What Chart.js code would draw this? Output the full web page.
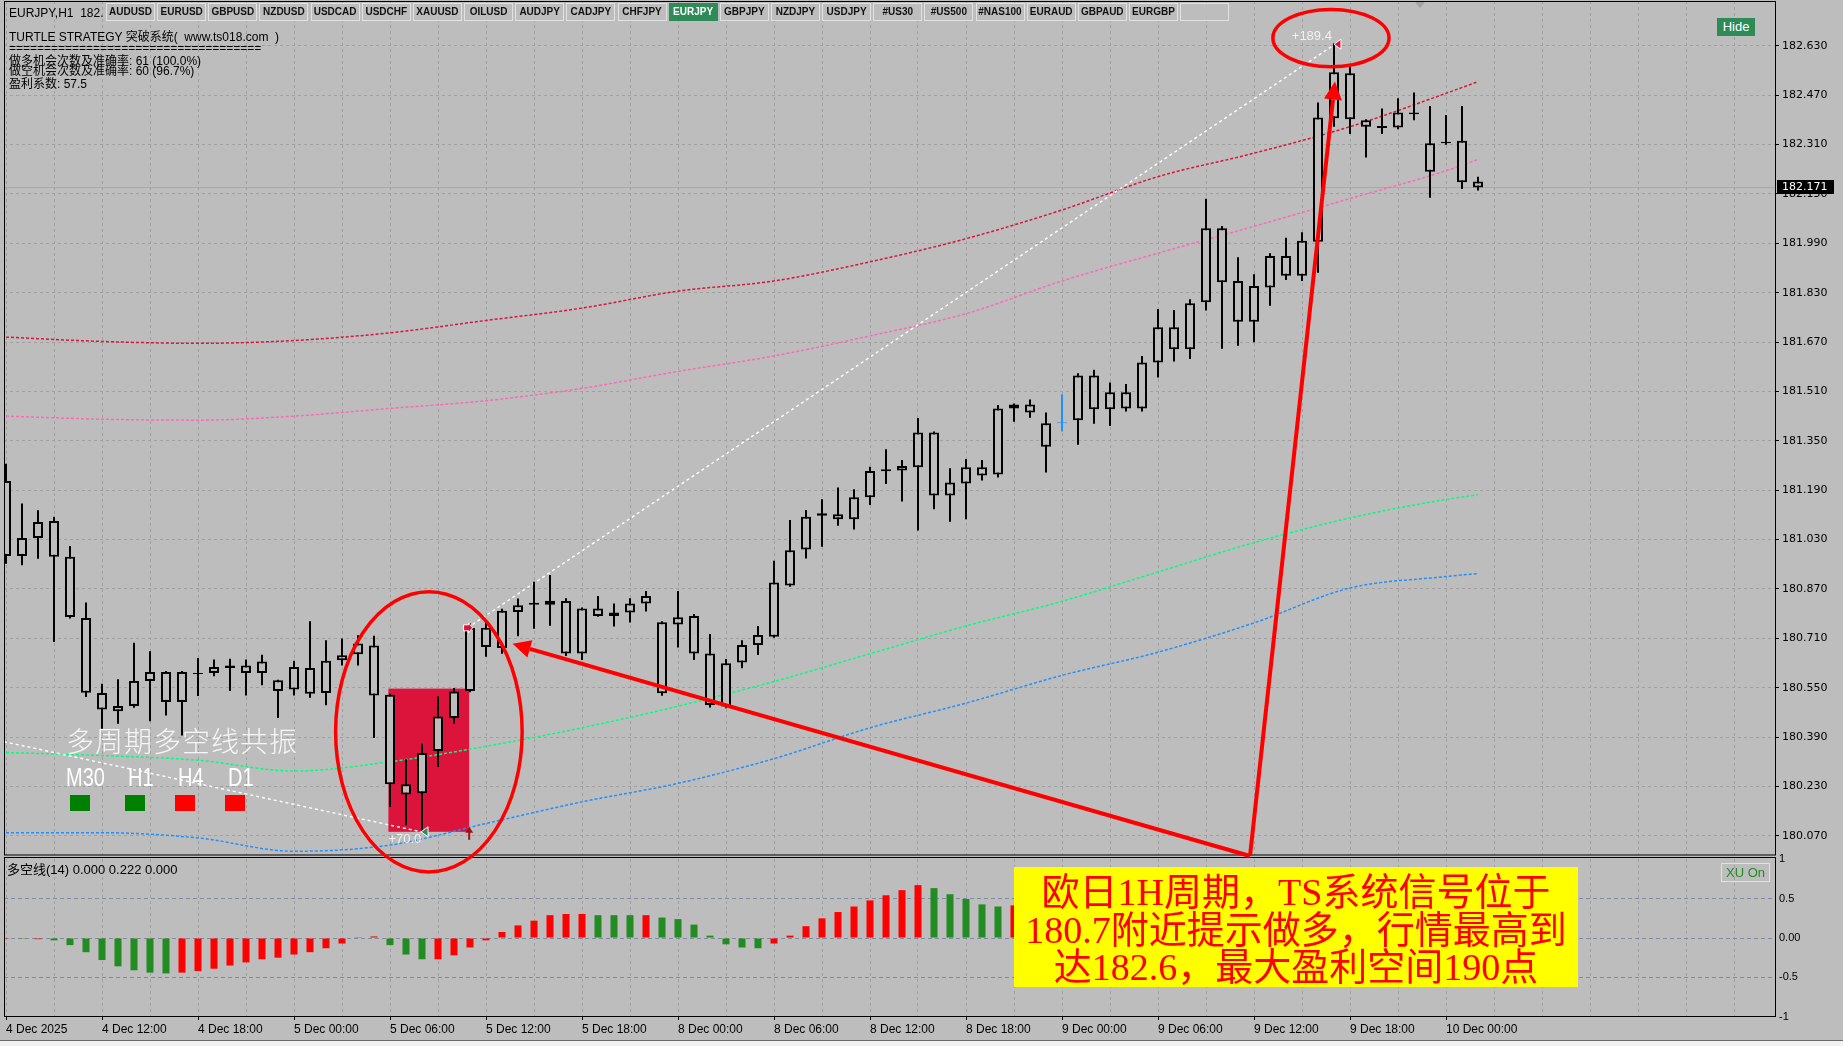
<!DOCTYPE html>
<html><head><meta charset="utf-8">
<script src="https://cdn.jsdelivr.net/npm/chart.js@4.4.1/dist/chart.umd.min.js"></script>
<style>
html,body{margin:0;padding:0;background:#bdbdbd;width:1843px;height:1046px;overflow:hidden;}
#wrap{position:relative;width:1843px;height:1046px;}
canvas{position:absolute;left:0;top:0;}
.ov{position:absolute;white-space:nowrap;line-height:1;}
.txt{font-family:"Liberation Sans","Noto Sans CJK SC",sans-serif;font-size:12px;color:#000;}
.btn{position:absolute;top:3px;height:18px;width:49px;box-sizing:border-box;border:1px solid #e2e2e2;background:#bdbdbd;
 font:bold 10px "Liberation Sans",sans-serif;color:#111;text-align:center;line-height:16px;}
.btn.on{background:#2e8b57;color:#fff;border-color:#2e8b57;}
.sq{position:absolute;width:20px;height:16px;}
</style></head><body>
<div id="wrap">
<canvas id="c" width="1843" height="1046"></canvas>
<div class="ov txt" style="left:9px;top:6.5px;">EURJPY,H1&nbsp;&nbsp;182.</div>
<div id="btns"></div>
<div class="ov txt" style="left:9px;top:31px;">TURTLE STRATEGY 突破系统(&nbsp;&nbsp;www.ts018.com&nbsp;&nbsp;)</div>
<div class="ov txt" style="left:9px;top:42px;">====================================</div>
<div class="ov txt" style="left:9px;top:55px;">做多机会次数及准确率: 61 (100.0%)</div>
<div class="ov txt" style="left:9px;top:65px;">做空机会次数及准确率: 60 (96.7%)</div>
<div class="ov txt" style="left:9px;top:78px;">盈利系数: 57.5</div>
<div class="ov" style="left:1717px;top:18px;width:38px;height:18px;background:#2e8b57;color:#fff;font:13px 'Liberation Sans',sans-serif;line-height:18px;text-align:center;">Hide</div>
<div class="ov" style="left:1415px;top:2px;width:0;height:0;border-left:5px solid transparent;border-right:5px solid transparent;border-top:6px solid #a3a3a3;"></div>
<div class="ov" style="left:66px;top:726px;font-family:'Noto Sans CJK SC',sans-serif;font-weight:300;font-size:28px;letter-spacing:1px;color:#f6f6f6;">多周期多空线共振</div>
<div class="ov" style="left:66px;top:765px;font-family:'Liberation Sans',sans-serif;font-size:25px;color:#fff;transform:scaleX(0.8);transform-origin:0 0;">M30</div>
<div class="ov" style="left:128px;top:765px;font-family:'Liberation Sans',sans-serif;font-size:25px;color:#fff;transform:scaleX(0.8);transform-origin:0 0;">H1</div>
<div class="ov" style="left:178px;top:765px;font-family:'Liberation Sans',sans-serif;font-size:25px;color:#fff;transform:scaleX(0.8);transform-origin:0 0;">H4</div>
<div class="ov" style="left:228px;top:765px;font-family:'Liberation Sans',sans-serif;font-size:25px;color:#fff;transform:scaleX(0.8);transform-origin:0 0;">D1</div>
<div class="sq" style="left:70px;top:795px;background:#008000;"></div>
<div class="sq" style="left:125px;top:795px;background:#008000;"></div>
<div class="sq" style="left:175px;top:795px;background:#ff0000;"></div>
<div class="sq" style="left:225px;top:795px;background:#ff0000;"></div>
<div class="ov txt" style="left:7px;top:862.5px;font-size:13px;">多空线(14) 0.000 0.222 0.000</div>
<div class="ov" style="left:1721px;top:863px;width:49px;height:19px;box-sizing:border-box;border:1px solid #e2e2e2;color:#228b22;font:13px 'Liberation Sans',sans-serif;line-height:17px;text-align:center;">XU On</div>
<div class="ov" style="left:1014px;top:867px;width:564px;height:120px;box-sizing:border-box;padding-top:7px;background:#ffff00;color:#ff0000;font-family:'Liberation Serif','Noto Sans CJK SC',serif;font-size:38px;line-height:37.5px;text-align:center;white-space:normal;">
欧日1H周期，TS系统信号位于<br>180.7附近提示做多，行情最高到<br>达182.6，最大盈利空间190点</div>
<div class="ov" style="left:0;top:1040px;width:1843px;height:6px;background:#f2f2f2;border-top:1px solid #6a6a6a;box-sizing:border-box;"></div>
</div>
<script>
// ---------- data ----------
const symbols = ['AUDUSD','EURUSD','GBPUSD','NZDUSD','USDCAD','USDCHF','XAUUSD','OILUSD','AUDJPY','CADJPY','CHFJPY','EURJPY','GBPJPY','NZDJPY','USDJPY','#US30','#US500','#NAS100','EURAUD','GBPAUD','EURGBP',''];
const activeSymbol = 'EURJPY';

const timeLabelIdx = [0,6,12,18,24,30,36,42,48,54,60,66,72,78,84,90];
const timeLabels = ['4 Dec 2025','4 Dec 12:00','4 Dec 18:00','5 Dec 00:00','5 Dec 06:00','5 Dec 12:00','5 Dec 18:00','8 Dec 00:00','8 Dec 06:00','8 Dec 12:00','8 Dec 18:00','9 Dec 00:00','9 Dec 06:00','9 Dec 12:00','9 Dec 18:00','10 Dec 00:00'];
const priceTicks = [180.070,180.230,180.390,180.550,180.710,180.870,181.030,181.190,181.350,181.510,181.670,181.830,181.990,182.150,182.310,182.470,182.630];
const oscTicks = [-1,-0.5,0,0.5,1];
const oscTickLabels = ['-1','-0.5','0.00','0.5','1'];
const lastPrice = 182.171;

const opens = [181.220,180.977,181.035,181.090,180.974,180.776,180.533,180.474,180.491,180.572,
180.601,180.504,180.598,180.598,180.614,180.622,180.598,180.574,180.544,180.530,
180.533,180.639,180.658,180.687,180.527,180.237,180.208,180.345,180.452,180.539,
180.744,180.679,180.795,180.819,180.819,180.831,180.661,180.807,180.782,180.794,
180.823,180.762,180.755,180.782,180.661,180.489,180.632,180.688,180.715,180.881,
180.998,181.107,181.112,181.096,181.167,181.251,181.254,181.264,181.377,181.173,
181.212,181.264,181.241,181.455,181.468,181.407,181.410,181.417,181.562,181.452,
181.507,181.455,181.604,181.718,181.647,181.799,182.039,181.868,181.736,181.847,
181.949,181.885,181.995,182.395,182.541,182.389,182.370,182.365,182.414,182.314,
182.319,182.322,182.190];
const highs = [181.276,181.147,181.125,181.104,181.009,180.826,180.563,180.577,180.696,180.668,
180.604,180.604,180.646,180.641,180.644,180.641,180.657,180.576,180.637,180.765,
180.704,180.709,180.720,180.718,180.530,180.318,180.368,180.522,180.549,180.758,
180.768,180.806,180.839,180.893,180.915,180.840,180.810,180.847,180.823,180.840,
180.863,180.765,180.863,180.789,180.724,180.643,180.704,180.750,180.961,181.093,
181.126,181.161,181.199,181.193,181.266,181.323,181.288,181.424,181.380,181.261,
181.291,181.288,181.466,181.471,181.484,181.442,181.501,181.569,181.580,181.539,
181.534,181.625,181.777,181.774,181.809,182.134,182.046,181.945,181.890,181.958,
182.008,182.026,182.446,182.638,182.562,182.392,182.427,182.460,182.479,182.435,
182.406,182.435,182.206];
const lows = [180.952,180.947,180.968,180.698,180.774,180.520,180.417,180.433,180.485,180.441,
180.460,180.395,180.523,180.587,180.539,180.525,180.558,180.452,180.525,180.517,
180.493,180.622,180.622,180.387,180.163,180.104,180.087,180.293,180.433,180.535,
180.650,180.660,180.717,180.741,180.751,180.653,180.640,180.780,180.748,180.761,
180.797,180.524,180.680,180.640,180.486,180.483,180.613,180.656,180.712,180.877,
180.969,181.007,181.075,181.063,181.142,181.210,181.153,181.059,181.128,181.088,
181.096,181.221,181.231,181.412,181.425,181.247,181.380,181.337,181.405,181.398,
181.445,181.445,181.555,181.607,181.615,181.772,181.648,181.658,181.669,181.788,
181.871,181.868,181.895,182.368,182.344,182.268,182.344,182.360,182.389,182.138,
182.309,182.166,182.161];
const closes = [180.977,181.035,181.087,180.974,180.779,180.534,180.479,180.491,180.572,180.601,
180.504,180.601,180.594,180.617,180.622,180.598,180.635,180.539,180.617,180.614,
180.637,180.655,180.693,180.525,180.237,180.204,180.338,180.457,180.538,180.744,
180.682,180.799,180.817,180.825,180.832,180.661,180.807,180.782,180.794,180.823,
180.847,180.532,180.778,180.661,180.494,180.629,180.688,180.721,180.891,180.995,
181.104,181.115,181.096,181.167,181.252,181.258,181.268,181.377,181.173,181.215,
181.264,181.238,181.455,181.468,181.442,181.331,181.407,181.562,181.452,181.507,
181.455,181.604,181.718,181.647,181.796,182.039,181.864,181.736,181.852,181.949,
181.885,181.998,182.398,182.544,182.392,182.368,182.364,182.414,182.408,182.222,
182.314,182.188,182.171];
const blueBarIdx = 66;

const maIdx   = [0,6,12,18,24,30,36,42,48,54,60,66,72,78,84,90,92];
const maRed   = [181.686,181.672,181.666,181.675,181.700,181.740,181.780,181.835,181.868,181.930,182.005,182.098,182.206,182.282,182.368,182.476,182.514];
const maPink  = [181.430,181.420,181.417,181.430,181.455,181.480,181.520,181.575,181.625,181.690,181.762,181.868,181.958,182.045,182.135,182.225,182.262];
const maGreen = [180.340,180.330,180.315,180.280,180.310,180.360,180.420,180.490,180.570,180.660,180.750,180.830,180.925,181.020,181.100,181.160,181.175];
const maBlue  = [180.080,180.080,180.063,180.020,180.040,180.110,180.180,180.240,180.320,180.420,180.500,180.590,180.665,180.760,180.873,180.910,180.920];

const oscValues = [-0.01,-0.01,-0.015,-0.03,-0.09,-0.18,-0.28,-0.36,-0.41,-0.44,
-0.45,-0.44,-0.42,-0.39,-0.35,-0.31,-0.27,-0.25,-0.21,-0.18,
-0.13,-0.07,0.01,0.02,-0.09,-0.21,-0.27,-0.27,-0.22,-0.12,
-0.03,0.076,0.16,0.22,0.29,0.305,0.305,0.29,0.29,0.29,
0.29,0.26,0.24,0.17,0.03,-0.08,-0.12,-0.13,-0.07,0.03,
0.15,0.25,0.33,0.40,0.478,0.543,0.608,0.672,0.634,0.556,
0.496,0.427,0.40,0.414,0.43,0.41,0.38,0.40,0.42,0.41,
0.39,0.42,0.47,0.51,0.56,0.64,0.67,0.65,0.63,0.65,
0.67,0.70,0.78,0.84,0.83,0.78,0.72,0.66,0.58,0.48,
0.40,0.31,0.222];
const oscState = ['r','g','r','g','g','g','g','g','g','g',
'g','r','r','r','r','r','r','r','r','r',
'r','r','r','r','g','g','g','r','r','r',
'r','r','r','r','r','r','r','g','g','g',
'r','g','g','g','g','g','g','g','r','r',
'r','r','r','r','r','r','r','r','g','g',
'g','g','g','r','r','g','g','r','r','g',
'g','r','r','r','r','r','r','g','g','r',
'r','r','r','r','g','g','g','g','g','g',
'g','g','g'];

// trade lines, box, annotations (bar index / price)
const trade1Idx = [-0.125, 25.94], trade1Price = [180.375, 180.083];
const trade2Idx = [28.85, 83.06],  trade2Price = [180.744, 182.635];
const boxIdx = [23.9, 28.95], boxPrice = [180.547, 180.083];
const ell1 = {idx:26.43, price:180.407, rIdx:5.83, rPrice:0.454};
const ell2 = {idx:82.81, price:182.655, rIdx:3.63, rPrice:0.093};
const arrowBase = {idx:77.75, price:180.0046};
const arrowTips = [{idx:31.66, price:180.692},{idx:83.06, price:182.514}];
const profitLabels = [{text:'+70.0', idx:23.9, price:180.057, align:'left'},{text:'+189.4', idx:82.87, price:182.662, align:'right'}];

// view ranges
const xMin = -0.125, xMax = 110.5625;
const priceMin = 180.0046, priceMax = 182.7752;
const oscMin = -0.991, oscMax = 1.042;

// ---------- buttons ----------
const bw = document.getElementById('btns');
symbols.forEach((s,i)=>{
  const d=document.createElement('div');
  d.className='btn'+(s===activeSymbol?' on':'');
  d.style.left=(106+51.15*i).toFixed(1)+'px';
  d.textContent=s; bw.appendChild(d);
});

// ---------- chart ----------
const N = opens.length;
const idxs = Array.from({length:N},(_,i)=>i);
const gridIdx = []; for(let v=0; v<=108; v+=3) gridIdx.push(v);
const candleColor = i => i===blueBarIdx ? '#1e90ff' : '#000000';
const pts = (xs,ys)=>xs.map((v,i)=>({x:v,y:ys[i]}));
const noPad = s => { s.paddingTop=0; s.paddingBottom=0; s.paddingLeft=0; s.paddingRight=0; };

function drawArrow(ctx,x0,y0,x1,y1,w,head,hw){
  const a=Math.atan2(y1-y0,x1-x0);
  const bx=x1-Math.cos(a)*head, by=y1-Math.sin(a)*head;
  ctx.lineWidth=w; ctx.beginPath(); ctx.moveTo(x0,y0); ctx.lineTo(bx,by); ctx.stroke();
  ctx.beginPath(); ctx.moveTo(x1,y1);
  ctx.lineTo(bx+Math.sin(a)*hw, by-Math.cos(a)*hw);
  ctx.lineTo(bx-Math.sin(a)*hw, by+Math.cos(a)*hw);
  ctx.closePath(); ctx.fill();
}

const mt4 = {
  id:'mt4',
  beforeDatasetsDraw(chart){
    const {ctx, chartArea:a, scales:{x,y}} = chart;
    ctx.save();
    const py = Math.round(y.getPixelForValue(lastPrice))+0.5;
    ctx.strokeStyle='#a9a9a9'; ctx.lineWidth=1;
    ctx.beginPath(); ctx.moveTo(a.left,py); ctx.lineTo(a.right,py); ctx.stroke();
    const bx0=x.getPixelForValue(boxIdx[0]), bx1=x.getPixelForValue(boxIdx[1]);
    const by0=y.getPixelForValue(boxPrice[0]), by1=y.getPixelForValue(boxPrice[1]);
    ctx.fillStyle='#dc143c';
    ctx.fillRect(bx0,Math.min(by0,by1),bx1-bx0,Math.abs(by1-by0));
    ctx.restore();
  },
  afterDraw(chart){
    const {ctx, chartArea:a, scales:{x,y,y2}} = chart;
    ctx.save();
    // pane gap + borders
    ctx.fillStyle='#bdbdbd';
    ctx.fillRect(a.left, y.bottom-1, a.right-a.left+1, 2);
    ctx.strokeStyle='#000'; ctx.lineWidth=1;
    ctx.strokeRect(a.left+0.5, a.top+0.5, a.right-a.left, y.bottom-1.5-a.top);
    ctx.strokeRect(a.left+0.5, y2.top+1.5, a.right-a.left, y2.bottom-y2.top-1);
    const X=v=>x.getPixelForValue(v), Y=v=>y.getPixelForValue(v);
    // entry marker
    let mx=X(trade2Idx[0]), my=Y(trade2Price[0]);
    ctx.fillStyle='#e0103a'; ctx.strokeStyle='#fff'; ctx.lineWidth=1;
    ctx.beginPath(); ctx.moveTo(mx-4,my-3); ctx.lineTo(mx+1,my-3); ctx.lineTo(mx+1,my-5); ctx.lineTo(mx+5,my); ctx.lineTo(mx+1,my+5); ctx.lineTo(mx+1,my+3); ctx.lineTo(mx-4,my+3); ctx.closePath(); ctx.fill(); ctx.stroke();
    // exit triangle previous trade
    mx=X(trade1Idx[1]); my=Y(trade1Price[1]);
    ctx.fillStyle='#2e8b57';
    ctx.beginPath(); ctx.moveTo(mx,my); ctx.lineTo(mx+7,my-5); ctx.lineTo(mx+7,my+5); ctx.closePath(); ctx.fill(); ctx.stroke();
    // top triangle
    mx=X(trade2Idx[1]); my=Y(trade2Price[1]);
    ctx.fillStyle='#dc143c';
    ctx.beginPath(); ctx.moveTo(mx-1,my); ctx.lineTo(mx+6,my-5); ctx.lineTo(mx+6,my+5); ctx.closePath(); ctx.fill(); ctx.stroke();
    // dark red up arrow at box end
    mx=X(boxIdx[1]); my=Y(boxPrice[1]);
    ctx.strokeStyle='#a01010'; ctx.fillStyle='#a01010'; ctx.lineWidth=2;
    ctx.beginPath(); ctx.moveTo(mx,my+8); ctx.lineTo(mx,my-2); ctx.stroke();
    ctx.beginPath(); ctx.moveTo(mx,my-5); ctx.lineTo(mx-4,my+1); ctx.lineTo(mx+4,my+1); ctx.closePath(); ctx.fill();
    // profit labels
    ctx.fillStyle='#f2f2f2'; ctx.font='13px "Liberation Sans", sans-serif'; ctx.textBaseline='middle';
    profitLabels.forEach(p=>{ ctx.textAlign=p.align; ctx.fillText(p.text, X(p.idx), Y(p.price)); });
    // red ellipses
    ctx.strokeStyle='#ff0000'; ctx.fillStyle='#ff0000'; ctx.lineWidth=3.5;
    [ell1,ell2].forEach(e=>{
      const cx=X(e.idx), cy=Y(e.price);
      const rx=Math.abs(X(e.idx+e.rIdx)-cx), ry=Math.abs(Y(e.price+e.rPrice)-cy);
      ctx.beginPath(); ctx.ellipse(cx,cy,rx,ry,0,0,Math.PI*2); ctx.stroke();
    });
    // arrows
    const bxp=X(arrowBase.idx), byp=Y(arrowBase.price);
    arrowTips.forEach(t=>drawArrow(ctx,bxp,byp,X(t.idx),Y(t.price),4,18,9));
    // current price label
    const py=Math.round(Y(lastPrice));
    ctx.fillStyle='#000'; ctx.fillRect(a.right+2, py-7, 57, 14);
    ctx.fillStyle='#fff'; ctx.font='11px "DejaVu Sans", sans-serif'; ctx.textAlign='left'; ctx.textBaseline='middle';
    ctx.fillText(lastPrice.toFixed(3), a.right+7, py+0.5);
    ctx.restore();
  }
};

Chart.defaults.font.family='"DejaVu Sans", sans-serif';
const maStyle = {type:'line', borderWidth:1.5, borderDash:[3,2], pointRadius:0, cubicInterpolationMode:'monotone', yAxisID:'y', order:20};
new Chart(document.getElementById('c'),{
  type:'bar',
  data:{datasets:[
    Object.assign({label:'maRed', data:pts(maIdx,maRed), borderColor:'#dc143c'}, maStyle),
    Object.assign({label:'maPink', data:pts(maIdx,maPink), borderColor:'#ff69b4'}, maStyle),
    Object.assign({label:'maGreen', data:pts(maIdx,maGreen), borderColor:'#00ff7f'}, maStyle),
    Object.assign({label:'maBlue', data:pts(maIdx,maBlue), borderColor:'#1e90ff'}, maStyle),
    {type:'line', label:'trade1', data:pts(trade1Idx,trade1Price), borderColor:'#ffffff', borderWidth:1.4, borderDash:[3,3], pointRadius:0, yAxisID:'y', order:15},
    {type:'line', label:'trade2', data:pts(trade2Idx,trade2Price), borderColor:'#ffffff', borderWidth:1.4, borderDash:[3,3], pointRadius:0, yAxisID:'y', order:15},
    {type:'bar', label:'osc', data:idxs.map(i=>({x:i,y:oscValues[i]})), backgroundColor:oscState.map(s=>s==='r'?'#ff0000':'#228b22'), barThickness:7, grouped:false, inflateAmount:0, yAxisID:'y2', order:12},
    {type:'bar', label:'wick', data:idxs.map(i=>({x:i,y:[lows[i],highs[i]]})), backgroundColor:idxs.map(candleColor), barThickness:2, grouped:false, inflateAmount:0, borderWidth:0, yAxisID:'y', order:6},
    {type:'bar', label:'body', data:idxs.map(i=>({x:i,y:[opens[i],closes[i]]})), backgroundColor:'#bdbdbd', borderColor:idxs.map(candleColor), borderWidth:2, borderSkipped:false, barThickness:10, grouped:false, inflateAmount:0, yAxisID:'y', order:5}
  ]},
  options:{
    responsive:false, animation:false, devicePixelRatio:1,
    layout:{padding:{left:4,top:1,right:0,bottom:0}},
    plugins:{legend:{display:false}, tooltip:{enabled:false}},
    scales:{
      x:{type:'linear', position:'bottom', min:xMin, max:xMax, offset:false, bounds:'data',
        afterBuildTicks:s=>{ s.ticks=gridIdx.map(v=>({value:v})); },
        afterFit:s=>{ s.height=30; noPad(s); },
        ticks:{autoSkip:false, maxRotation:0, minRotation:0, align:'start', padding:2, color:'#000',
          font:{family:'"Liberation Sans", sans-serif', size:12},
          callback:v=>{ const j=timeLabelIdx.indexOf(v); return j>=0?timeLabels[j]:''; }},
        grid:{offset:false, color:'#a0a0a0', lineWidth:1, drawTicks:true, tickLength:4, tickBorderDash:[],
          tickColor:c=> (c.tick && timeLabelIdx.includes(c.tick.value)) ? '#000' : 'rgba(0,0,0,0)'},
        border:{display:false, dash:[3,3]}
      },
      y:{type:'linear', position:'right', stack:'pane', stackWeight:855, min:priceMin, max:priceMax, beginAtZero:false, bounds:'data',
        afterBuildTicks:s=>{ s.ticks=priceTicks.map(v=>({value:v})); },
        afterFit:s=>{ s.width=68; noPad(s); },
        ticks:{color:'#000', padding:3, font:{size:11}, callback:v=>Number(v).toFixed(3)},
        grid:{color:'#a0a0a0', lineWidth:1, tickLength:4, tickColor:'#000', tickBorderDash:[]},
        border:{display:false, dash:[3,3]}
      },
      y2:{type:'linear', position:'right', stack:'pane', stackWeight:160, min:oscMin, max:oscMax, beginAtZero:false, bounds:'data',
        afterBuildTicks:s=>{ s.ticks=oscTicks.map(v=>({value:v})); },
        afterFit:s=>{ s.width=68; noPad(s); },
        ticks:{color:'#000', padding:0, font:{family:'"Liberation Sans", sans-serif', size:11},
          callback:v=>{ const j=oscTicks.indexOf(v); return j>=0?oscTickLabels[j]:''; }},
        grid:{lineWidth:1, tickLength:4, tickColor:'rgba(0,0,0,0)', tickBorderDash:[],
          color:c=> (c.tick && Math.abs(c.tick.value)<0.9) ? '#7d8ca3' : 'rgba(0,0,0,0)'},
        border:{display:false, dash:[4,3]}
      }
    }
  },
  plugins:[mt4]
});
</script>
</body></html>
